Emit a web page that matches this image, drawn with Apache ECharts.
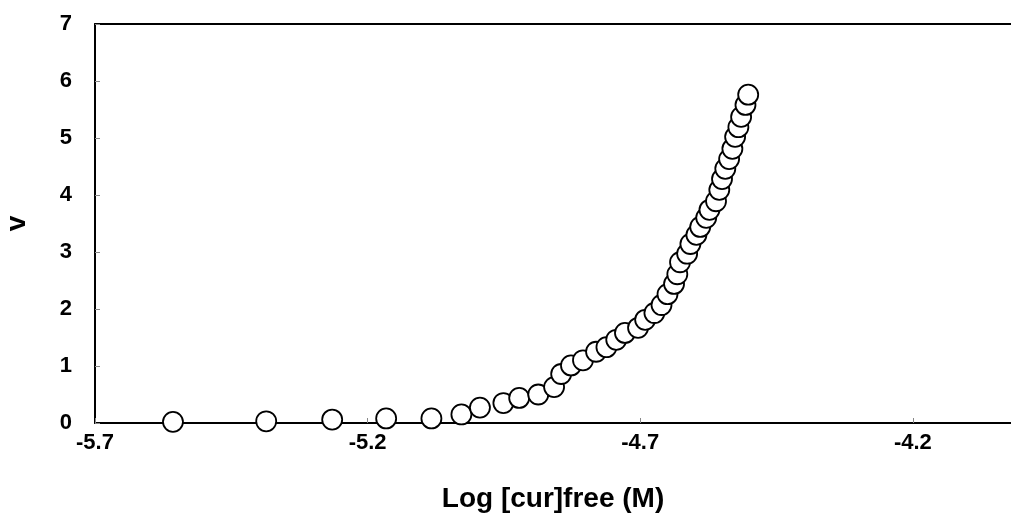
<!DOCTYPE html>
<html>
<head>
<meta charset="utf-8">
<script src="https://cdn.jsdelivr.net/npm/echarts@6/dist/echarts.min.js"></script>
<style>
  html, body { margin: 0; padding: 0; background: #fff; }
  #chart { width: 1011px; height: 530px; }
</style>
</head>
<body>
<div id="chart"></div>
<script>
// Log [cur]free (M)
var logCur = [-5.557, -5.386, -5.265, -5.166, -5.083, -5.028, -4.994, -4.951, -4.922, -4.887,
    -4.858, -4.845, -4.827, -4.805, -4.781, -4.762, -4.744, -4.728, -4.704, -4.691,
    -4.674, -4.661, -4.650, -4.638, -4.632, -4.627, -4.614, -4.608, -4.597, -4.590,
    -4.579, -4.573, -4.561, -4.555, -4.550, -4.544, -4.537, -4.531, -4.526, -4.520,
    -4.515, -4.507, -4.502];
// v
var vValue = [0.02, 0.03, 0.06, 0.08, 0.08, 0.15, 0.27, 0.35, 0.44, 0.50,
    0.63, 0.86, 1.01, 1.10, 1.25, 1.33, 1.46, 1.58, 1.67, 1.81,
    1.93, 2.07, 2.26, 2.44, 2.61, 2.82, 2.97, 3.14, 3.30, 3.44,
    3.60, 3.74, 3.89, 4.09, 4.28, 4.46, 4.63, 4.81, 5.02, 5.19,
    5.37, 5.58, 5.76];

var points = [];
for (var i = 0; i < logCur.length; i++) {
    points.push([logCur[i], vValue[i]]);
}

var chart = echarts.init(document.getElementById('chart'));
var font = 'Liberation Sans, Arial, sans-serif';
var option = {
    animation: false,
    grid: {
        left: 95, right: 0, top: 24, bottom: 107,
        outerBoundsMode: 'none'
    },
    xAxis: [
        {
            type: 'value',
            min: -5.7,
            max: -4.02,
            interval: 0.5,
            name: 'Log [cur]free (M)',
            nameLocation: 'middle',
            nameGap: 62,
            nameTextStyle: { fontFamily: font, fontWeight: 'bold', fontSize: 28, color: '#000' },
            axisLine: { lineStyle: { color: '#000', width: 2 } },
            axisTick: { inside: true, length: 5, lineStyle: { color: '#888' } },
            axisLabel: {
                showMaxLabel: false,
                margin: 9,
                fontFamily: font, fontWeight: 'bold', fontSize: 22, color: '#000',
                formatter: function (v) { return v.toFixed(1); }
            },
            splitLine: { show: false }
        },
        {
            type: 'value',
            position: 'top',
            min: -5.7,
            max: -4.02,
            axisLine: { lineStyle: { color: '#000', width: 2 } },
            axisTick: { show: false },
            axisLabel: { show: false },
            splitLine: { show: false }
        }
    ],
    yAxis: {
        type: 'value',
        min: 0,
        max: 7,
        interval: 1,
        name: 'v',
        nameLocation: 'middle',
        nameGap: 64,
        nameTextStyle: { fontFamily: font, fontWeight: 'bold', fontSize: 28, color: '#000' },
        axisLine: { show: true, lineStyle: { color: '#000', width: 2 } },
        axisTick: { show: true, inside: true, length: 5, lineStyle: { color: '#888' } },
        axisLabel: { margin: 23, fontFamily: font, fontWeight: 'bold', fontSize: 22, color: '#000' },
        splitLine: { show: false }
    },
    series: [{
        name: 'v',
        type: 'scatter',
        data: points,
        symbol: 'circle',
        symbolSize: 20,
        itemStyle: { color: '#fff', borderColor: '#000', borderWidth: 1.8, opacity: 1 }
    }]
};
chart.setOption(option);
</script>
</body>
</html>
